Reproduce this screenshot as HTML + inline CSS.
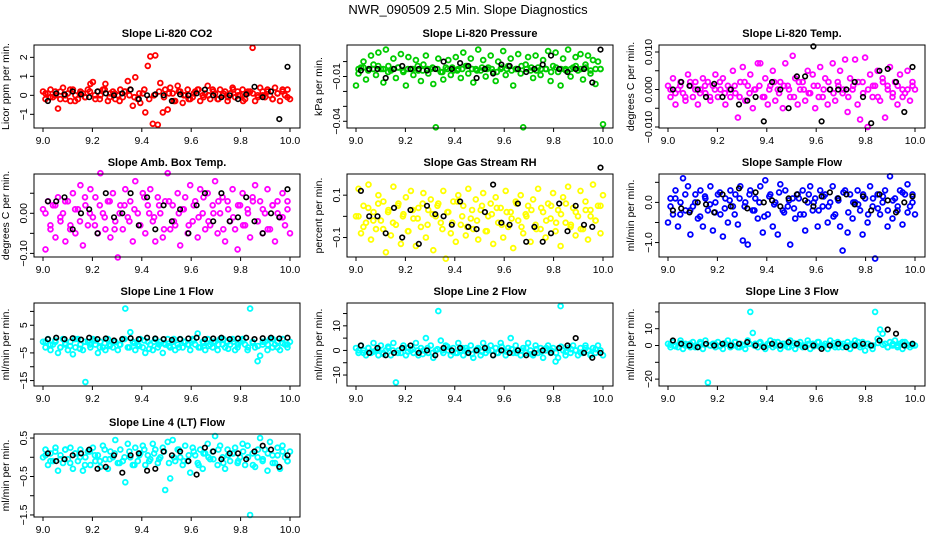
<!DOCTYPE html>
<html><head><meta charset="utf-8"><style>
html,body{margin:0;padding:0;background:#fff;}
svg{display:block;font-family:"Liberation Sans",Arial,sans-serif;}
</style></head><body>
<svg id="chart" width="936" height="540" viewBox="0 0 936 540" xmlns="http://www.w3.org/2000/svg">
<text x="468" y="14" text-anchor="middle" font-size="13">NWR_090509  2.5 Min. Slope Diagnostics</text>
</svg>
<script>
const xTickValues = [9.0, 9.2, 9.4, 9.6, 9.8, 10.0];
const xTickLabels = ["9.0", "9.2", "9.4", "9.6", "9.8", "10.0"];
const xDomain = [8.9636, 10.0405];

const co2Colored = [0.2,-0.2,0.1,0.3,-0.1,0.0,-0.7,0.2,0.4,-0.2,0.1,-0.3,0.3,0.0,-0.2,0.2,0.1,-0.1,0.3,0.6,0.7,-0.2,0.2,0.0,0.3,0.6,-0.3,0.1,0.2,-0.2,0.0,0.3,-0.1,0.2,0.75,0.3,-0.55,0.95,-0.2,-0.4,0.1,-0.9,1.55,2.05,-1.5,2.1,-1.55,0.65,-0.9,0.3,-0.75,0.4,0.1,-0.3,0.5,0.2,-0.4,0.0,0.3,-0.2,-0.1,0.2,0.3,-0.3,0.0,0.1,0.5,-0.2,0.3,0.1,-0.2,0.3,0.0,0.2,-0.3,0.1,0.4,-0.1,0.2,0.0,0.3,-0.2,0.1,0.2,2.5,-0.3,0.0,0.4,0.2,-0.1,0.3,0.0,-0.2,0.4,0.1,-0.3,0.2,0.0,0.3,-0.2];
const co2Core = [0.1,-0.1,0.2,-0.2,0.0,0.3,-0.3,0.1,-0.1,0.2,0.0,-0.2,0.3,-0.1,0.1,-0.3,0.2,0.0,-0.1,0.1,0.3,-0.2,0.0,0.2,-0.1,0.1,-0.3,0.2,0.0,-0.2,0.1,0.3,-0.1,0.0,0.2,-0.2,0.1,-0.1,0.3,0.0,-0.3,0.2,0.1,-0.1,0.0,0.2,-0.2,0.1,0.3,-0.1];
const co2Black = [-0.3,0.1,0.05,0.2,0.05,-0.1,0.2,0.1,0.0,0.1,0.3,-0.2,0.0,0.05,0.0,-0.3,0.05,0.0,0.1,0.3,0.0,-0.1,0.0,-0.2,0.05,0.45,-0.1,0.2,-1.25,1.5];
const pressColored = [-0.016,-0.008,-0.004,0.0,-0.012,-0.005,0.004,-0.002,-0.009,0.006,-0.005,-0.014,0.008,-0.003,-0.006,0.002,-0.011,-0.004,0.005,-0.007,-0.016,0.003,-0.005,-0.009,0.001,-0.006,-0.013,-0.002,0.004,-0.008,-0.005,-0.015,-0.044,0.002,-0.007,-0.012,-0.004,0.001,-0.009,-0.006,0.003,-0.005,-0.011,0.006,-0.003,-0.008,0.002,-0.014,-0.005,0.008,-0.006,0.001,-0.010,-0.004,0.004,-0.007,-0.013,0.0,-0.005,0.007,-0.009,-0.003,0.002,-0.016,-0.005,0.005,-0.008,-0.044,-0.002,0.003,-0.006,-0.011,0.004,-0.004,-0.009,0.001,-0.005,0.007,-0.013,-0.003,0.006,-0.007,-0.016,0.002,-0.005,0.008,-0.010,-0.004,0.003,-0.006,0.005,-0.012,-0.002,0.004,-0.008,0.001,-0.015,0.0,-0.005,-0.042];
const pressCore = [-0.005,-0.004,-0.006,-0.005,-0.003,-0.005,-0.007,-0.005,-0.004,-0.006,-0.005,-0.005,-0.003,-0.006,-0.005,-0.004,-0.005,-0.007,-0.005,-0.004,-0.006,-0.005,-0.003,-0.005,-0.006,-0.004,-0.005,-0.005,-0.007,-0.004,-0.005,-0.006,-0.005,-0.003,-0.005,-0.004,-0.006,-0.005,-0.005,-0.007,-0.004,-0.005,-0.006,-0.005,-0.003,-0.005,-0.004,-0.006,-0.005,-0.005];
const pressBlack = [-0.006,-0.005,-0.005,-0.011,-0.005,-0.003,-0.005,-0.005,-0.006,-0.005,0.0,-0.005,-0.001,-0.003,-0.011,-0.005,-0.008,-0.002,-0.003,-0.005,-0.007,-0.005,-0.002,0.004,-0.005,-0.007,-0.005,-0.005,-0.014,0.008];
const tempColored = [0.001,-0.002,0.003,-0.004,0.0,0.002,-0.001,-0.003,0.004,0.001,-0.002,0.002,-0.004,0.0,0.003,-0.001,0.002,-0.003,0.001,0.004,-0.002,0.0,0.003,-0.004,0.001,-0.002,0.005,-0.001,-0.0075,0.002,0.006,-0.003,0.001,0.004,-0.005,0.0,0.007,0.007,-0.002,0.003,-0.004,0.001,0.005,-0.003,0.0,0.002,-0.005,0.007,0.001,-0.002,0.009,0.003,-0.004,0.0,0.002,-0.003,0.005,-0.001,0.004,-0.005,0.001,0.006,-0.002,0.003,-0.004,0.0,0.007,-0.003,0.002,0.005,-0.001,0.008,-0.006,0.003,0.0,0.008,-0.004,-0.008,0.002,0.0085,-0.010,0.004,-0.002,0.001,0.005,-0.003,0.003,-0.0075,0.001,0.006,-0.002,0.002,-0.004,0.004,0.0,-0.001,0.005,-0.003,0.002,0.0];
const tempCore = [0.0,-0.001,0.001,-0.002,0.002,0.0,-0.001,0.001,-0.002,0.0,0.002,-0.001,0.0,0.001,-0.002,0.002,-0.001,0.0,0.001,-0.002,0.0,0.002,-0.001,0.001,0.0,-0.002,0.002,0.0,-0.001,0.001,-0.002,0.0,0.002,-0.001,0.001,0.0,-0.002,0.001,0.002,-0.001,0.0,0.001,-0.002,0.002,0.0,-0.001,0.001,-0.002,0.0,0.001];
const tempBlack = [0.0,0.002,0.001,0.0,-0.002,0.0015,-0.002,0.0,-0.004,-0.003,-0.002,-0.0085,0.002,0.0,-0.005,0.0035,0.0035,0.0115,-0.0085,0.0,0.0,0.0,0.002,-0.002,-0.009,0.005,0.0055,0.002,-0.006,0.006];
const ambColored = [0.01,-0.09,0.03,-0.04,0.02,-0.06,0.04,-0.02,0.0,-0.07,0.03,-0.03,0.05,-0.05,0.01,0.07,-0.08,0.02,-0.03,0.06,-0.01,0.04,-0.05,0.1,0.0,-0.04,0.03,-0.06,0.05,-0.02,-0.11,0.02,-0.04,0.06,-0.01,0.03,-0.07,0.08,0.0,-0.03,0.05,-0.05,0.02,0.06,-0.02,-0.07,0.04,0.0,-0.06,0.03,0.1,-0.04,0.02,-0.03,0.05,-0.08,0.01,0.04,-0.05,0.07,-0.02,0.03,-0.06,0.06,0.0,-0.04,0.05,-0.03,0.02,0.08,-0.05,0.0,0.04,-0.07,0.03,-0.02,0.06,-0.04,-0.09,0.02,0.05,-0.03,0.01,-0.06,0.04,0.07,-0.02,0.03,-0.05,0.0,0.06,-0.04,0.02,-0.07,0.03,-0.01,0.05,-0.03,0.01,-0.05];
const ambCore = [0.0,-0.03,0.02,-0.01,0.03,-0.04,0.01,-0.02,0.04,0.0,-0.03,0.02,-0.01,0.03,-0.04,0.0,0.02,-0.02,0.01,-0.03,0.04,0.0,-0.01,0.02,-0.04,0.03,-0.02,0.0,0.01,-0.03,0.02,-0.01,0.04,-0.02,0.0,0.03,-0.04,0.01,-0.01,0.02,-0.03,0.0,0.03,-0.02,0.01,-0.04,0.02,0.0,-0.01,0.03];
const ambBlack = [0.03,0.03,0.04,-0.04,0.0,0.01,-0.05,0.05,-0.01,0.0,0.05,-0.03,0.04,-0.04,0.02,-0.02,0.01,-0.05,0.02,0.05,-0.02,0.05,-0.02,-0.01,0.04,-0.02,-0.05,0.0,-0.01,0.06];
const rhColored = [0.0,0.13,-0.08,0.05,-0.03,0.15,-0.11,0.02,-0.06,0.1,-0.02,0.07,-0.17,0.03,-0.09,0.14,-0.04,0.06,-0.13,0.01,0.09,-0.07,0.12,-0.01,-0.14,0.04,-0.05,0.11,-0.1,0.03,0.08,-0.16,0.0,0.06,-0.03,0.12,-0.2,0.02,-0.08,0.07,-0.12,0.1,-0.04,0.05,-0.09,0.13,-0.01,-0.06,0.08,-0.11,0.03,0.11,-0.07,0.0,0.06,-0.13,0.09,-0.03,0.04,-0.1,0.12,-0.05,0.02,-0.15,0.07,-0.02,0.1,-0.08,0.01,0.05,-0.12,0.08,-0.04,0.13,-0.06,0.02,-0.1,0.06,-0.01,0.11,-0.07,0.03,-0.14,0.09,-0.03,0.14,-0.05,0.04,-0.09,0.0,0.12,-0.06,0.07,-0.11,0.03,0.15,-0.02,0.05,-0.08,0.1];
const rhCore = [0.0,-0.05,0.04,-0.02,0.06,-0.06,0.02,-0.03,0.05,0.0,-0.07,0.03,-0.01,0.06,-0.04,0.01,0.05,-0.06,0.02,-0.03,0.07,0.0,-0.05,0.03,-0.02,0.05,-0.07,0.01,0.04,-0.04,0.02,-0.01,0.06,-0.05,0.0,0.03,-0.06,0.04,-0.02,0.05,-0.03,0.01,0.06,-0.04,0.02,-0.06,0.03,0.0,-0.02,0.05];
const rhBlack = [0.12,0.0,0.0,-0.08,0.04,-0.1,0.03,-0.13,0.05,0.01,0.0,-0.04,0.07,-0.05,-0.06,0.02,0.15,-0.03,-0.04,0.06,-0.12,-0.05,-0.12,-0.08,0.06,-0.07,0.05,-0.04,-0.05,0.23];
const sampleColored = [-0.5,0.1,-0.3,0.3,-0.6,0.0,0.6,-0.2,0.4,-0.8,-0.1,0.2,-0.4,0.3,-0.6,0.1,-0.2,0.4,-0.7,0.0,0.2,-0.3,-0.85,0.1,-0.5,0.3,-0.1,0.2,-0.55,0.4,-0.95,0.0,-1.05,0.3,-0.2,0.1,-0.4,0.4,-0.75,0.55,-0.3,0.2,-0.6,0.0,-0.8,0.45,-0.2,0.3,-0.1,-1.05,0.1,-0.4,0.2,-0.3,0.3,-0.7,0.0,0.4,-0.2,0.1,-0.6,0.3,-0.1,0.2,-0.5,0.0,0.4,-0.3,0.1,-0.6,-1.2,0.3,-0.75,0.2,-0.4,0.0,0.3,-0.2,-0.8,0.1,-0.5,0.4,-0.1,-1.4,0.2,-0.3,0.0,0.3,-0.6,0.65,-0.4,0.1,-0.2,0.3,-0.55,0.2,0.45,-0.1,0.2,-0.3];
const sampleCore = [-0.1,0.1,-0.3,0.2,-0.2,0.0,-0.35,0.15,-0.05,-0.25,0.25,-0.15,0.05,-0.3,0.1,-0.1,0.2,-0.2,0.0,-0.35,0.15,-0.05,0.25,-0.25,0.05,-0.15,0.1,-0.3,0.2,0.0,-0.2,0.15,-0.1,-0.35,0.05,0.25,-0.25,0.0,-0.05,0.2,-0.3,0.1,-0.15,0.15,-0.2,0.05,-0.1,0.25,-0.25,0.0];
const sampleBlack = [-0.2,-0.15,-0.25,0.0,-0.05,-0.25,0.2,-0.1,0.35,-0.15,0.25,0.0,0.05,-0.1,0.1,0.2,0.05,-0.1,0.15,0.25,0.1,0.2,-0.05,0.15,-0.2,0.2,0.05,-0.25,0.0,0.15];
const line1Colored = [-1,-3,0,-4,-2,-1,-5,-3,0,-2,-4,-1,-5.5,-3,0,-2,-4,-15.5,-1,-3,0,-2,-5,-1,-3,-4,0,-2,-3,-1,-4,-2,0,11,-3,2.5,-1,-4,-2,0,-3,-5,-1,-2,-4,0,-3,-1,-5,-2,0,-3,-1,-4,-2,0,-3,-1,-2,-4,0,-2,2,-3,-1,-4,0,-2,-3,-1,-4,0,-2,-3,-1,-2,0,-4,-3,-1,0,-2,-4,11,-1,-3,-8,-6,-2,-1,-4,0,-3,-2,-1,-4,0,-2,-3,-1];
const line1Core = [-1,-2,-0.5,-3,-1.5,-2.5,0,-3.5,-1,-2,-0.5,-3,-1.5,-2.5,-1,-2,0,-3,-1.5,-2.5,-0.5,-3.5,-1,-2,-1.5,-2.5,0,-3,-1,-2,-0.5,-3,-1.5,-2.5,-1,-2,0,-3.5,-1,-2,-0.5,-3,-1.5,-2.5,-1,-2,0,-3,-1.5,-2];
const line1Black = [0,0.5,0,0.3,-0.2,0.5,0,0.2,-0.5,0,0.3,0,0.5,0.2,0,-0.3,0,0.2,0.5,0,0.2,0.5,0,0.2,0.5,0,0.3,0.5,0.2,0.5];
const line2Colored = [1,-1,2,0,-2,1,-1,3,0,-2,2,-1,0,1,-2,3,-13,0,-1,2,-2,1,0,-1,3,-2,1,0,5,-1,2,-3,0,16,4,-1,2,0,-2,1,-1,3,0,-2,1,-1,2,-3,0,1,-2,3,-1,0,2,-2,1,-1,3,0,-2,1,5,-1,2,0,-2,1,-1,3,0,-2,2,-1,1,-3,0,2,-1,1,-4.5,-3,18,0,-2,1,-1,2,0,-2,1,-1,2,0,-2,1,-1,2,0,-2];
const line2Core = [0,-1,1,-0.5,0.5,-1.5,1.5,0,-1,1,-0.5,0.5,0,-1.5,1,-1,0.5,0,1.5,-0.5,-1,1,0,-1.5,0.5,-0.5,1,0,-1,1.5,-0.5,0.5,-1,0,1,-1.5,0.5,-0.5,1,0,-1,1.5,-0.5,0.5,0,-1,1,-1.5,0.5,0];
const line2Black = [2,-1,1,-2,-1,1,2,-1,0,-2,1,0,1,-1,0,1,-2,0,-1,0,-2,-1,0,-1,1,2,5,-1,-3,-1];
const line3Colored = [1,-1,2,0,-1,3,-2,1,0,-1,2,0,-1,1,-2,3,-22,0,1,-1,2,0,-2,1,3,-1,0,2,-1,1,0,-2,3,20,7.5,1,-1,2,0,-2,1,3,-1,0,2,-2,1,0,-1,3,0,-2,1,2,-1,0,3,-2,1,0,2,-1,0,1,-2,3,0,-1,2,1,-1,0,2,-2,1,3,0,-1,2,-3,1,0,-2,20,4,9.5,7,1,-1,2,0,3,-1,1,-2,2,0,-1,1,0];
const line3Core = [0.5,-0.5,1.5,0,1,-1,2,0.5,0,1,-0.5,1.5,0,2,-1,0.5,1,0,1.5,-0.5,0.5,2,0,1,-1,1.5,0.5,0,1,-0.5,2,0,0.5,1.5,-1,1,0,0.5,2,-0.5,1,0,1.5,0.5,-1,1,0,2,0.5,0];
const line3Black = [3,1,0,-1,1,0,1,0,1,2,0,-1,1,0,2,1,-1,0,-2,0,1,-1,0,1,0,3,9.5,7,0,1];
const line4Colored = [0.0,0.2,-0.2,0.1,-0.1,0.25,-0.35,0.05,-0.15,0.2,-0.05,0.25,-0.3,0.1,-0.1,0.2,-0.35,0.0,0.15,-0.2,0.25,-0.1,0.05,-0.25,0.3,-0.05,-0.3,0.15,0.0,0.45,-0.15,0.2,-0.1,-0.65,0.35,0.0,-0.2,0.25,-0.1,0.1,0.3,-0.2,0.05,-0.05,0.35,0.2,-0.15,0.0,0.25,-0.85,0.4,-0.55,0.45,-0.1,0.2,0.0,-0.2,0.3,-0.1,-0.4,0.25,0.05,-0.15,0.2,-0.3,0.1,0.35,-0.05,0.15,0.55,-0.2,0.3,0.0,-0.3,0.2,-0.1,0.1,0.25,-0.15,0.0,0.35,-0.2,0.3,-1.5,0.1,-0.25,0.0,0.5,-0.1,0.2,-0.35,0.4,0.05,-0.15,0.25,-0.3,0.3,0.0,-0.1,0.15];
const line4Core = [0.05,-0.1,0.15,-0.05,0.2,-0.15,0.1,0.0,-0.2,0.15,0.05,-0.1,0.2,-0.05,0.1,-0.15,0.0,0.15,-0.2,0.05,0.2,-0.1,0.1,-0.05,0.15,-0.15,0.0,0.2,-0.1,0.05,0.15,-0.2,0.1,0.0,-0.05,0.2,-0.15,0.05,0.1,-0.1,0.15,0.0,-0.2,0.2,-0.05,0.1,-0.15,0.05,0.15,-0.1];
const line4Black = [0.1,-0.1,-0.05,0.05,0.1,0.2,-0.3,-0.25,0.05,-0.4,0.05,0.1,-0.35,-0.3,0.15,0.05,0.15,-0.1,-0.45,0.25,0.15,-0.05,0.1,0.1,-0.05,0.15,0.3,0.2,-0.25,0.05];

const panels = [
 {name:"co2",title:"Slope Li-820 CO2",ylab:"Licor ppm per min.",col:0,row:0,color:"#ff0000",dom:[-1.72,2.65],ticks:[-1,0,1,2],labels:["\u22121","0","1","2"],c:co2Colored,k:co2Core,b:co2Black},
 {name:"pressure",title:"Slope Li-820 Pressure",ylab:"kPa per min.",col:1,row:0,color:"#00cc00",dom:[-0.0445,0.0111],ticks:[-0.04,-0.03,-0.02,-0.01,0.0],labels:["\u22120.04","","","\u22120.01",""],c:pressColored,k:pressCore,b:pressBlack},
 {name:"temp",title:"Slope Li-820 Temp.",ylab:"degrees C per min.",col:2,row:0,color:"#ff00ff",dom:[-0.01027,0.01187],ticks:[-0.01,-0.005,0,0.005,0.01],labels:["\u22120.010","","0.000","","0.010"],c:tempColored,k:tempCore,b:tempBlack},
 {name:"amb-box-temp",title:"Slope Amb. Box Temp.",ylab:"degrees C per min.",col:0,row:1,color:"#ff00ff",dom:[-0.109,0.098],ticks:[-0.1,-0.05,0,0.05],labels:["\u22120.10","","0.00",""],c:ambColored,k:ambCore,b:ambBlack},
 {name:"gas-stream-rh",title:"Slope Gas Stream RH",ylab:"percent per min.",col:1,row:1,color:"#ffff00",dom:[-0.192,0.2],ticks:[-0.1,0,0.1],labels:["\u22120.1","","0.1"],c:rhColored,k:rhCore,b:rhBlack},
 {name:"sample-flow",title:"Slope Sample Flow",ylab:"ml/min per min.",col:2,row:1,color:"#0000ff",dom:[-1.36,0.7075],ticks:[-1,-0.5,0,0.5],labels:["\u22121.0","","0.0",""],c:sampleColored,k:sampleCore,b:sampleBlack},
 {name:"line1-flow",title:"Slope Line 1 Flow",ylab:"ml/min per min.",col:0,row:2,color:"#00ffff",dom:[-16.96,13.04],ticks:[-15,-10,-5,0,5,10],labels:["\u221215","","\u22125","","5",""],c:line1Colored,k:line1Core,b:line1Black},
 {name:"line2-flow",title:"Slope Line 2 Flow",ylab:"ml/min per min.",col:1,row:2,color:"#00ffff",dom:[-14.46,19.28],ticks:[-10,-5,0,5,10,15],labels:["\u221210","","0","","10",""],c:line2Colored,k:line2Core,b:line2Black},
 {name:"line3-flow",title:"Slope Line 3 Flow",ylab:"ml/min per min.",col:2,row:2,color:"#00ffff",dom:[-24.1,25.3],ticks:[-20,-10,0,10,20],labels:["\u221220","","0","10",""],c:line3Colored,k:line3Core,b:line3Black},
 {name:"line4-flow",title:"Slope Line 4 (LT) Flow",ylab:"ml/min per min.",col:0,row:3,color:"#00ffff",dom:[-1.553,0.605],ticks:[-1.5,-1,-0.5,0,0.5],labels:["\u22121.5","","\u22120.5","","0.5"],c:line4Colored,k:line4Core,b:line4Black}
];
const colLeft=[34,347,659], boxW=266;
const rowTop=[45,174,303,434], boxH=83;
const NS="http://www.w3.org/2000/svg";
const svg=document.getElementById("chart");
function mk(tag,attrs,parent){const e=document.createElementNS(NS,tag);for(const k in attrs)e.setAttribute(k,attrs[k]);(parent||svg).appendChild(e);return e;}

panels.forEach(p=>{
  const L=colLeft[p.col],T=rowTop[p.row],R=L+boxW,B=T+boxH;
  const xs=v=>L+(v-xDomain[0])/(xDomain[1]-xDomain[0])*boxW;
  const ys=v=>B-(v-p.dom[0])/(p.dom[1]-p.dom[0])*boxH;
  const g=mk("g",{});
  
  
  const t=mk("text",{x:(L+R)/2,y:T-8,"text-anchor":"middle","font-size":"11","font-weight":"bold"},g);
  t.textContent=p.title;
  
  
  const yl=mk("text",{x:0,y:0,transform:`translate(${L-25},${(T+B)/2}) rotate(-90)`,"text-anchor":"middle","font-size":"10.5"},g);
  yl.textContent=p.ylab;
  
  
  const pts=mk("g",{fill:"none","stroke-width":"1.8"},g);
  
  
  const n=p.c.length;
  p.c.forEach((v,i)=>{
    const c=mk("circle",{cx:xs(9+i/(n-1)).toFixed(1),cy:ys(v).toFixed(1),r:"2.4",stroke:p.color},pts);
    
    
  });
  const nk=p.k.length;
  p.k.forEach((v,i)=>{
    const c=mk("circle",{cx:xs(9+(i+0.5)/nk).toFixed(1),cy:ys(v).toFixed(1),r:"2.4",stroke:p.color},pts);
    
    
  });
  const bp=mk("g",{fill:"none","stroke-width":"1.6",stroke:"#000"},g);
  
  
  const m=p.b.length;
  p.b.forEach((v,i)=>{
    const c=mk("circle",{cx:xs(9.02+i*0.97/(m-1)).toFixed(1),cy:ys(v).toFixed(1),r:"2.3"},bp);
    
    
  });
  const box=mk("rect",{x:L,y:T,width:boxW,height:boxH,fill:"none",stroke:"#000","stroke-width":"1"},g);
  
  
  const xa=mk("g",{},g);
  
  
  xTickValues.forEach((v,i)=>{
    const x=xs(v);
    mk("line",{x1:x,x2:x,y1:B,y2:B+4,stroke:"#000"},xa);
    const tl=mk("text",{x:x,y:B+16,"text-anchor":"middle","font-size":"10.5"},xa);
    tl.textContent=xTickLabels[i];
    
    
  });
  const ya=mk("g",{},g);
  
  
  p.ticks.forEach((v,i)=>{
    const y=ys(v);
    mk("line",{x1:L-4,x2:L,y1:y,y2:y,stroke:"#000"},ya);
    if(p.labels[i]){
      const tl=mk("text",{x:0,y:0,transform:`translate(${L-7},${y}) rotate(-90)`,"text-anchor":"middle","font-size":"10.5"},ya);
      tl.textContent=p.labels[i];
      
      
    }
  });
});
</script>
</body></html>
